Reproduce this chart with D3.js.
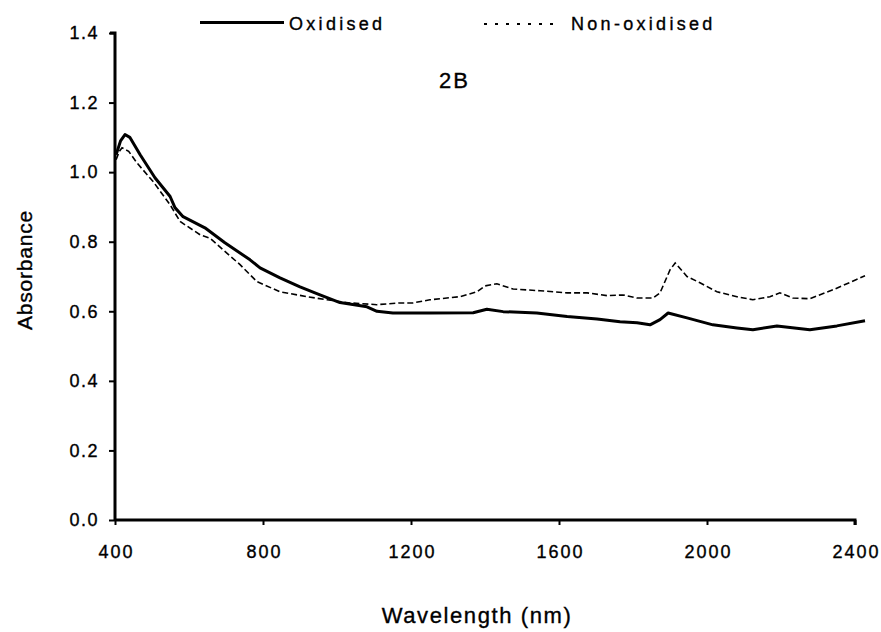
<!DOCTYPE html>
<html>
<head>
<meta charset="utf-8">
<script src="https://cdn.jsdelivr.net/npm/d3@7"></script>
<style>
  body { margin: 0; background: #fff; }
  text { font-family: "Liberation Sans", Arial, sans-serif; fill: #000; stroke: #000; stroke-width: 0.35px; }
</style>
</head>
<body>
<svg id="chart" width="881" height="632"></svg>
<script>
// wavelength (nm) / absorbance pairs
var oxWl  = [403, 415, 427, 440, 468, 508, 549, 562, 584, 643, 697, 765, 792, 846, 900, 954, 1008, 1081, 1108, 1151, 1250, 1368, 1405, 1449, 1540, 1622, 1703, 1765, 1811, 1846, 1873, 1895, 1946, 2016, 2081, 2124, 2189, 2278, 2351, 2427];
var oxAbs = [1.05, 1.09, 1.108, 1.10, 1.05, 0.984, 0.93, 0.898, 0.872, 0.84, 0.797, 0.748, 0.725, 0.696, 0.67, 0.647, 0.625, 0.613, 0.60, 0.595, 0.595, 0.596, 0.606, 0.599, 0.595, 0.585, 0.578, 0.57, 0.567, 0.561, 0.576, 0.595, 0.581, 0.561, 0.552, 0.547, 0.558, 0.547, 0.558, 0.573];

var nonWl  = [403, 412, 419, 437, 459, 503, 549, 576, 630, 657, 692, 738, 784, 846, 919, 973, 1035, 1108, 1170, 1205, 1251, 1332, 1378, 1400, 1432, 1476, 1549, 1622, 1676, 1730, 1773, 1811, 1854, 1873, 1900, 1914, 1946, 1981, 2027, 2081, 2124, 2170, 2197, 2232, 2278, 2341, 2427];
var nonAbs = [1.036, 1.06, 1.07, 1.06, 1.027, 0.973, 0.906, 0.858, 0.82, 0.81, 0.777, 0.734, 0.685, 0.656, 0.642, 0.633, 0.624, 0.619, 0.624, 0.624, 0.633, 0.642, 0.656, 0.673, 0.679, 0.664, 0.659, 0.653, 0.653, 0.645, 0.647, 0.638, 0.638, 0.653, 0.719, 0.739, 0.70, 0.682, 0.656, 0.642, 0.633, 0.642, 0.653, 0.638, 0.636, 0.662, 0.702];

var xTicks = [400, 800, 1200, 1600, 2000, 2400];
var yTicks = [0, 0.2, 0.4, 0.6, 0.8, 1.0, 1.2, 1.4];
var seriesNames = ['Oxidised', 'Non-oxidised'];

var svg = d3.select('#chart');
var plotL = 115, plotR = 855, plotT = 33, plotB = 520;

var x = d3.scaleLinear().domain([400, 2400]).range([plotL, plotR]);
var y = d3.scaleLinear().domain([0, 1.4]).range([plotB, plotT]);

// axes
var yAxis = svg.append('g')
    .attr('transform', 'translate(' + plotL + ',0)')
    .call(d3.axisLeft(y).tickValues(yTicks).tickFormat(d3.format('.1f')).tickSize(6).tickPadding(10));
var xAxis = svg.append('g')
    .attr('transform', 'translate(0,' + plotB + ')')
    .call(d3.axisBottom(x).tickValues(xTicks).tickFormat(d3.format('d')).tickSize(5).tickPadding(20));

[xAxis, yAxis].forEach(function(a) {
  a.select('.domain').attr('stroke', '#000').attr('stroke-width', 3);
  a.selectAll('.tick line').attr('stroke', '#000').attr('stroke-width', 2);
  a.selectAll('.tick text').style('font-size', '18px').attr('fill', '#000');
});
xAxis.selectAll('.tick text').style('letter-spacing', '2px').attr('dy', '0').attr('y', 38).attr('dx', '1');
yAxis.selectAll('.tick text').style('letter-spacing', '1.5px');
yAxis.select('.domain').attr('d', 'M0,' + plotB + 'V' + plotT + 'H-5');
xAxis.select('.domain').attr('d', 'M' + plotL + ',0H' + plotR + 'V5');

var line = d3.line()
    .x(function(d) { return x(d[0]); })
    .y(function(d) { return y(d[1]); })
    .curve(d3.curveLinear);

svg.append('path')
    .datum(d3.zip(nonWl, nonAbs))
    .attr('fill', 'none')
    .attr('stroke', '#000')
    .attr('stroke-width', 1.6)
    .attr('stroke-dasharray', '6,3')
    .attr('d', line);

svg.append('path')
    .datum(d3.zip(oxWl, oxAbs))
    .attr('fill', 'none')
    .attr('stroke', '#000')
    .attr('stroke-width', 3)
    .attr('stroke-linejoin', 'round')
    .attr('d', line);

// legend
var legend = svg.append('g');
legend.append('line').attr('x1', 200).attr('x2', 284).attr('y1', 22.5).attr('y2', 22.5)
    .attr('stroke', '#000').attr('stroke-width', 3);
legend.append('text').attr('x', 289).attr('y', 30).style('font-size', '18px')
    .style('letter-spacing', '3.3px').text(seriesNames[0]);
legend.append('line').attr('x1', 484).attr('x2', 561).attr('y1', 24).attr('y2', 24)
    .attr('stroke', '#000').attr('stroke-width', 2).attr('stroke-dasharray', '3,8');
legend.append('text').attr('x', 571).attr('y', 30).style('font-size', '18px')
    .style('letter-spacing', '3.3px').text(seriesNames[1]);

// panel label
svg.append('text').attr('x', 439).attr('y', 88).style('font-size', '22px')
    .style('letter-spacing', '2px').text('2B');

// axis titles
svg.append('text').attr('x', 477).attr('y', 623).attr('text-anchor', 'middle')
    .style('font-size', '22px').style('letter-spacing', '1.6px').text('Wavelength (nm)');
svg.append('text').attr('transform', 'translate(32,270) rotate(-90)').attr('text-anchor', 'middle')
    .style('font-size', '21px').style('letter-spacing', '0.8px').text('Absorbance');
</script>
</body>
</html>
